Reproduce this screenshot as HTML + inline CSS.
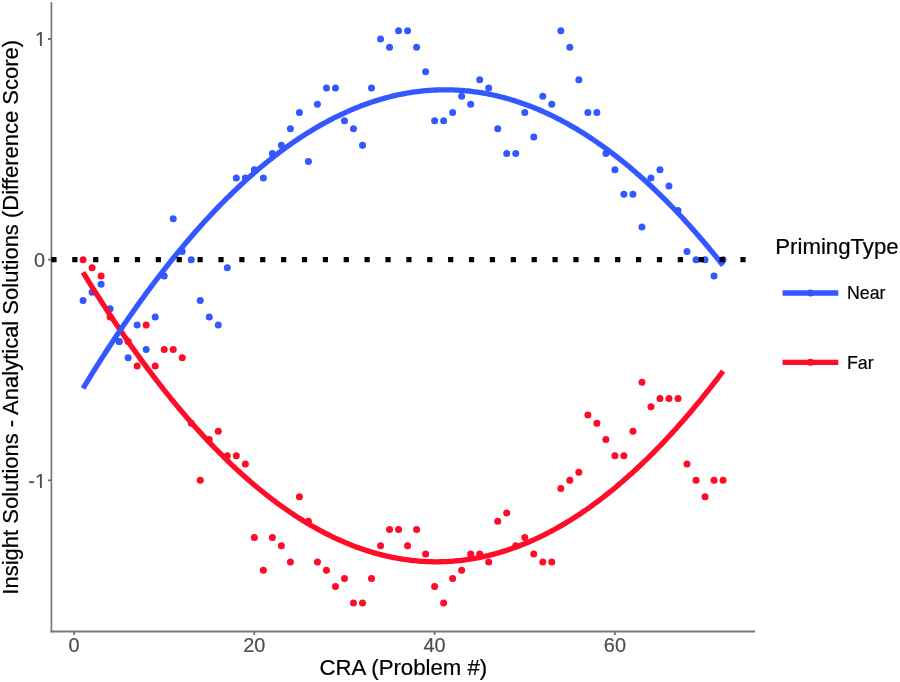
<!DOCTYPE html>
<html><head><meta charset="utf-8"><title>CRA plot</title><style>
html,body{margin:0;padding:0;background:#fff;}
svg{display:block;}
#wrap{width:900px;height:682px;}
text{font-family:"Liberation Sans",Arial,sans-serif;}
</style></head><body><div id="wrap">
<svg width="900" height="682" viewBox="0 0 900 682">
<rect width="900" height="682" fill="#fff"/>
<g>
<circle fill="#FE0C28" cx="83.07" cy="259.66" r="3.5"/>
<circle fill="#FE0C28" cx="92.09" cy="267.83" r="3.5"/>
<circle fill="#FE0C28" cx="101.10" cy="276.01" r="3.5"/>
<circle fill="#FE0C28" cx="110.12" cy="316.88" r="3.5"/>
<circle fill="#FE0C28" cx="119.13" cy="341.40" r="3.5"/>
<circle fill="#FE0C28" cx="128.14" cy="341.40" r="3.5"/>
<circle fill="#FE0C28" cx="137.16" cy="365.92" r="3.5"/>
<circle fill="#FE0C28" cx="146.17" cy="325.05" r="3.5"/>
<circle fill="#FE0C28" cx="155.19" cy="365.92" r="3.5"/>
<circle fill="#FE0C28" cx="164.20" cy="349.57" r="3.5"/>
<circle fill="#FE0C28" cx="173.21" cy="349.57" r="3.5"/>
<circle fill="#FE0C28" cx="182.23" cy="357.75" r="3.5"/>
<circle fill="#FE0C28" cx="191.24" cy="423.14" r="3.5"/>
<circle fill="#FE0C28" cx="200.26" cy="480.36" r="3.5"/>
<circle fill="#FE0C28" cx="209.27" cy="439.49" r="3.5"/>
<circle fill="#FE0C28" cx="218.28" cy="431.32" r="3.5"/>
<circle fill="#FE0C28" cx="227.30" cy="455.84" r="3.5"/>
<circle fill="#FE0C28" cx="236.31" cy="455.84" r="3.5"/>
<circle fill="#FE0C28" cx="245.33" cy="464.01" r="3.5"/>
<circle fill="#FE0C28" cx="254.34" cy="537.58" r="3.5"/>
<circle fill="#FE0C28" cx="263.35" cy="570.27" r="3.5"/>
<circle fill="#FE0C28" cx="272.37" cy="537.58" r="3.5"/>
<circle fill="#FE0C28" cx="281.38" cy="545.75" r="3.5"/>
<circle fill="#FE0C28" cx="290.40" cy="562.10" r="3.5"/>
<circle fill="#FE0C28" cx="299.41" cy="496.71" r="3.5"/>
<circle fill="#FE0C28" cx="308.42" cy="521.23" r="3.5"/>
<circle fill="#FE0C28" cx="317.44" cy="562.10" r="3.5"/>
<circle fill="#FE0C28" cx="326.45" cy="570.27" r="3.5"/>
<circle fill="#FE0C28" cx="335.47" cy="586.62" r="3.5"/>
<circle fill="#FE0C28" cx="344.48" cy="578.45" r="3.5"/>
<circle fill="#FE0C28" cx="353.49" cy="602.97" r="3.5"/>
<circle fill="#FE0C28" cx="362.51" cy="602.97" r="3.5"/>
<circle fill="#FE0C28" cx="371.52" cy="578.45" r="3.5"/>
<circle fill="#FE0C28" cx="380.54" cy="545.75" r="3.5"/>
<circle fill="#FE0C28" cx="389.55" cy="529.40" r="3.5"/>
<circle fill="#FE0C28" cx="398.56" cy="529.40" r="3.5"/>
<circle fill="#FE0C28" cx="407.58" cy="545.75" r="3.5"/>
<circle fill="#FE0C28" cx="416.59" cy="529.40" r="3.5"/>
<circle fill="#FE0C28" cx="425.61" cy="553.93" r="3.5"/>
<circle fill="#FE0C28" cx="434.62" cy="586.62" r="3.5"/>
<circle fill="#FE0C28" cx="443.63" cy="602.97" r="3.5"/>
<circle fill="#FE0C28" cx="452.65" cy="578.45" r="3.5"/>
<circle fill="#FE0C28" cx="461.66" cy="570.27" r="3.5"/>
<circle fill="#FE0C28" cx="470.68" cy="553.93" r="3.5"/>
<circle fill="#FE0C28" cx="479.69" cy="553.93" r="3.5"/>
<circle fill="#FE0C28" cx="488.70" cy="562.10" r="3.5"/>
<circle fill="#FE0C28" cx="497.72" cy="521.23" r="3.5"/>
<circle fill="#FE0C28" cx="506.73" cy="513.06" r="3.5"/>
<circle fill="#FE0C28" cx="515.75" cy="545.75" r="3.5"/>
<circle fill="#FE0C28" cx="524.76" cy="537.58" r="3.5"/>
<circle fill="#FE0C28" cx="533.77" cy="553.93" r="3.5"/>
<circle fill="#FE0C28" cx="542.79" cy="562.10" r="3.5"/>
<circle fill="#FE0C28" cx="551.80" cy="562.10" r="3.5"/>
<circle fill="#FE0C28" cx="560.82" cy="488.53" r="3.5"/>
<circle fill="#FE0C28" cx="569.83" cy="480.36" r="3.5"/>
<circle fill="#FE0C28" cx="578.84" cy="472.19" r="3.5"/>
<circle fill="#FE0C28" cx="587.86" cy="414.97" r="3.5"/>
<circle fill="#FE0C28" cx="596.87" cy="423.14" r="3.5"/>
<circle fill="#FE0C28" cx="605.89" cy="439.49" r="3.5"/>
<circle fill="#FE0C28" cx="614.90" cy="455.84" r="3.5"/>
<circle fill="#FE0C28" cx="623.91" cy="455.84" r="3.5"/>
<circle fill="#FE0C28" cx="632.93" cy="431.32" r="3.5"/>
<circle fill="#FE0C28" cx="641.94" cy="382.27" r="3.5"/>
<circle fill="#FE0C28" cx="650.96" cy="406.79" r="3.5"/>
<circle fill="#FE0C28" cx="659.97" cy="398.62" r="3.5"/>
<circle fill="#FE0C28" cx="668.98" cy="398.62" r="3.5"/>
<circle fill="#FE0C28" cx="678.00" cy="398.62" r="3.5"/>
<circle fill="#FE0C28" cx="687.01" cy="464.01" r="3.5"/>
<circle fill="#FE0C28" cx="696.03" cy="480.36" r="3.5"/>
<circle fill="#FE0C28" cx="705.04" cy="496.71" r="3.5"/>
<circle fill="#FE0C28" cx="714.05" cy="480.36" r="3.5"/>
<circle fill="#FE0C28" cx="723.07" cy="480.36" r="3.5"/>
<circle fill="#3458FF" cx="83.07" cy="300.53" r="3.5"/>
<circle fill="#3458FF" cx="92.09" cy="292.36" r="3.5"/>
<circle fill="#3458FF" cx="101.10" cy="284.18" r="3.5"/>
<circle fill="#3458FF" cx="110.12" cy="308.70" r="3.5"/>
<circle fill="#3458FF" cx="119.13" cy="341.40" r="3.5"/>
<circle fill="#3458FF" cx="128.14" cy="357.75" r="3.5"/>
<circle fill="#3458FF" cx="137.16" cy="325.05" r="3.5"/>
<circle fill="#3458FF" cx="146.17" cy="349.57" r="3.5"/>
<circle fill="#3458FF" cx="155.19" cy="316.88" r="3.5"/>
<circle fill="#3458FF" cx="164.20" cy="276.01" r="3.5"/>
<circle fill="#3458FF" cx="173.21" cy="218.79" r="3.5"/>
<circle fill="#3458FF" cx="182.23" cy="251.49" r="3.5"/>
<circle fill="#3458FF" cx="191.24" cy="259.66" r="3.5"/>
<circle fill="#3458FF" cx="200.26" cy="300.53" r="3.5"/>
<circle fill="#3458FF" cx="209.27" cy="316.88" r="3.5"/>
<circle fill="#3458FF" cx="218.28" cy="325.05" r="3.5"/>
<circle fill="#3458FF" cx="227.30" cy="267.83" r="3.5"/>
<circle fill="#3458FF" cx="236.31" cy="177.92" r="3.5"/>
<circle fill="#3458FF" cx="245.33" cy="177.92" r="3.5"/>
<circle fill="#3458FF" cx="254.34" cy="169.75" r="3.5"/>
<circle fill="#3458FF" cx="263.35" cy="177.92" r="3.5"/>
<circle fill="#3458FF" cx="272.37" cy="153.40" r="3.5"/>
<circle fill="#3458FF" cx="281.38" cy="145.22" r="3.5"/>
<circle fill="#3458FF" cx="290.40" cy="128.87" r="3.5"/>
<circle fill="#3458FF" cx="299.41" cy="112.53" r="3.5"/>
<circle fill="#3458FF" cx="308.42" cy="161.57" r="3.5"/>
<circle fill="#3458FF" cx="317.44" cy="104.35" r="3.5"/>
<circle fill="#3458FF" cx="326.45" cy="88.00" r="3.5"/>
<circle fill="#3458FF" cx="335.47" cy="88.00" r="3.5"/>
<circle fill="#3458FF" cx="344.48" cy="120.70" r="3.5"/>
<circle fill="#3458FF" cx="353.49" cy="128.87" r="3.5"/>
<circle fill="#3458FF" cx="362.51" cy="145.22" r="3.5"/>
<circle fill="#3458FF" cx="371.52" cy="88.00" r="3.5"/>
<circle fill="#3458FF" cx="380.54" cy="38.96" r="3.5"/>
<circle fill="#3458FF" cx="389.55" cy="47.13" r="3.5"/>
<circle fill="#3458FF" cx="398.56" cy="30.79" r="3.5"/>
<circle fill="#3458FF" cx="407.58" cy="30.79" r="3.5"/>
<circle fill="#3458FF" cx="416.59" cy="47.13" r="3.5"/>
<circle fill="#3458FF" cx="425.61" cy="71.66" r="3.5"/>
<circle fill="#3458FF" cx="434.62" cy="120.70" r="3.5"/>
<circle fill="#3458FF" cx="443.63" cy="120.70" r="3.5"/>
<circle fill="#3458FF" cx="452.65" cy="112.53" r="3.5"/>
<circle fill="#3458FF" cx="461.66" cy="96.18" r="3.5"/>
<circle fill="#3458FF" cx="470.68" cy="104.35" r="3.5"/>
<circle fill="#3458FF" cx="479.69" cy="79.83" r="3.5"/>
<circle fill="#3458FF" cx="488.70" cy="88.00" r="3.5"/>
<circle fill="#3458FF" cx="497.72" cy="128.87" r="3.5"/>
<circle fill="#3458FF" cx="506.73" cy="153.40" r="3.5"/>
<circle fill="#3458FF" cx="515.75" cy="153.40" r="3.5"/>
<circle fill="#3458FF" cx="524.76" cy="112.53" r="3.5"/>
<circle fill="#3458FF" cx="533.77" cy="137.05" r="3.5"/>
<circle fill="#3458FF" cx="542.79" cy="96.18" r="3.5"/>
<circle fill="#3458FF" cx="551.80" cy="104.35" r="3.5"/>
<circle fill="#3458FF" cx="560.82" cy="30.79" r="3.5"/>
<circle fill="#3458FF" cx="569.83" cy="47.13" r="3.5"/>
<circle fill="#3458FF" cx="578.84" cy="79.83" r="3.5"/>
<circle fill="#3458FF" cx="587.86" cy="112.53" r="3.5"/>
<circle fill="#3458FF" cx="596.87" cy="112.53" r="3.5"/>
<circle fill="#3458FF" cx="605.89" cy="153.40" r="3.5"/>
<circle fill="#3458FF" cx="614.90" cy="169.75" r="3.5"/>
<circle fill="#3458FF" cx="623.91" cy="194.27" r="3.5"/>
<circle fill="#3458FF" cx="632.93" cy="194.27" r="3.5"/>
<circle fill="#3458FF" cx="641.94" cy="226.96" r="3.5"/>
<circle fill="#3458FF" cx="650.96" cy="177.92" r="3.5"/>
<circle fill="#3458FF" cx="659.97" cy="169.75" r="3.5"/>
<circle fill="#3458FF" cx="668.98" cy="186.09" r="3.5"/>
<circle fill="#3458FF" cx="678.00" cy="210.62" r="3.5"/>
<circle fill="#3458FF" cx="687.01" cy="251.49" r="3.5"/>
<circle fill="#3458FF" cx="696.03" cy="259.66" r="3.5"/>
<circle fill="#3458FF" cx="705.04" cy="259.66" r="3.5"/>
<circle fill="#3458FF" cx="714.05" cy="276.01" r="3.5"/>
<circle fill="#3458FF" cx="723.07" cy="259.66" r="3.5"/>
</g>
<polyline points="83.07,272.43 85.21,275.92 87.35,279.40 89.50,282.85 91.64,286.28 93.78,289.69 95.92,293.08 98.06,296.45 100.20,299.80 102.34,303.13 104.48,306.43 106.62,309.71 108.76,312.98 110.90,316.22 113.04,319.44 115.18,322.64 117.32,325.81 119.46,328.97 121.60,332.10 123.74,335.22 125.88,338.31 128.02,341.38 130.16,344.43 132.30,347.46 134.44,350.47 136.59,353.45 138.73,356.42 140.87,359.36 143.01,362.28 145.15,365.18 147.29,368.06 149.43,370.92 151.57,373.76 153.71,376.58 155.85,379.37 157.99,382.14 160.13,384.90 162.27,387.63 164.41,390.34 166.55,393.03 168.69,395.69 170.83,398.34 172.97,400.96 175.11,403.57 177.25,406.15 179.39,408.71 181.53,411.25 183.68,413.77 185.82,416.27 187.96,418.74 190.10,421.20 192.24,423.63 194.38,426.04 196.52,428.44 198.66,430.81 200.80,433.15 202.94,435.48 205.08,437.79 207.22,440.07 209.36,442.34 211.50,444.58 213.64,446.80 215.78,449.00 217.92,451.18 220.06,453.34 222.20,455.47 224.34,457.59 226.48,459.68 228.62,461.75 230.76,463.80 232.91,465.83 235.05,467.84 237.19,469.83 239.33,471.80 241.47,473.74 243.61,475.67 245.75,477.57 247.89,479.45 250.03,481.31 252.17,483.15 254.31,484.97 256.45,486.76 258.59,488.54 260.73,490.29 262.87,492.02 265.01,493.74 267.15,495.43 269.29,497.09 271.43,498.74 273.57,500.37 275.71,501.97 277.85,503.56 280.00,505.12 282.14,506.66 284.28,508.18 286.42,509.68 288.56,511.16 290.70,512.61 292.84,514.05 294.98,515.46 297.12,516.85 299.26,518.23 301.40,519.58 303.54,520.91 305.68,522.21 307.82,523.50 309.96,524.76 312.10,526.01 314.24,527.23 316.38,528.43 318.52,529.61 320.66,530.77 322.80,531.91 324.94,533.03 327.09,534.12 329.23,535.19 331.37,536.25 333.51,537.28 335.65,538.29 337.79,539.28 339.93,540.25 342.07,541.19 344.21,542.12 346.35,543.02 348.49,543.90 350.63,544.77 352.77,545.61 354.91,546.42 357.05,547.22 359.19,548.00 361.33,548.75 363.47,549.49 365.61,550.20 367.75,550.89 369.89,551.56 372.03,552.21 374.17,552.84 376.32,553.45 378.46,554.03 380.60,554.59 382.74,555.14 384.88,555.66 387.02,556.16 389.16,556.64 391.30,557.10 393.44,557.53 395.58,557.95 397.72,558.34 399.86,558.71 402.00,559.07 404.14,559.40 406.28,559.71 408.42,559.99 410.56,560.26 412.70,560.51 414.84,560.73 416.98,560.93 419.12,561.11 421.26,561.27 423.41,561.41 425.55,561.53 427.69,561.63 429.83,561.70 431.97,561.76 434.11,561.79 436.25,561.80 438.39,561.79 440.53,561.76 442.67,561.71 444.81,561.64 446.95,561.54 449.09,561.43 451.23,561.29 453.37,561.13 455.51,560.95 457.65,560.75 459.79,560.53 461.93,560.28 464.07,560.02 466.21,559.73 468.35,559.43 470.50,559.10 472.64,558.75 474.78,558.38 476.92,557.99 479.06,557.57 481.20,557.14 483.34,556.68 485.48,556.20 487.62,555.71 489.76,555.19 491.90,554.65 494.04,554.08 496.18,553.50 498.32,552.90 500.46,552.27 502.60,551.62 504.74,550.96 506.88,550.27 509.02,549.56 511.16,548.82 513.30,548.07 515.44,547.30 517.58,546.50 519.73,545.68 521.87,544.84 524.01,543.98 526.15,543.10 528.29,542.20 530.43,541.28 532.57,540.33 534.71,539.37 536.85,538.38 538.99,537.37 541.13,536.34 543.27,535.29 545.41,534.22 547.55,533.13 549.69,532.01 551.83,530.88 553.97,529.72 556.11,528.54 558.25,527.34 560.39,526.12 562.53,524.88 564.67,523.62 566.82,522.33 568.96,521.03 571.10,519.70 573.24,518.35 575.38,516.98 577.52,515.59 579.66,514.18 581.80,512.75 583.94,511.29 586.08,509.82 588.22,508.32 590.36,506.80 592.50,505.26 594.64,503.70 596.78,502.12 598.92,500.52 601.06,498.89 603.20,497.25 605.34,495.58 607.48,493.89 609.62,492.18 611.76,490.45 613.91,488.70 616.05,486.93 618.19,485.13 620.33,483.32 622.47,481.48 624.61,479.62 626.75,477.74 628.89,475.84 631.03,473.92 633.17,471.98 635.31,470.02 637.45,468.03 639.59,466.02 641.73,463.99 643.87,461.95 646.01,459.88 648.15,457.78 650.29,455.67 652.43,453.54 654.57,451.38 656.71,449.20 658.85,447.01 661.00,444.79 663.14,442.55 665.28,440.28 667.42,438.00 669.56,435.70 671.70,433.37 673.84,431.03 675.98,428.66 678.12,426.27 680.26,423.86 682.40,421.43 684.54,418.97 686.68,416.50 688.82,414.00 690.96,411.49 693.10,408.95 695.24,406.39 697.38,403.81 699.52,401.21 701.66,398.58 703.80,395.94 705.94,393.28 708.08,390.59 710.23,387.88 712.37,385.15 714.51,382.40 716.65,379.63 718.79,376.84 720.93,374.02 723.07,371.19" fill="none" stroke="#FE0C28" stroke-width="5.3" stroke-linejoin="round"/>
<polyline points="83.07,388.33 85.21,384.81 87.35,381.32 89.50,377.84 91.64,374.38 93.78,370.95 95.92,367.53 98.06,364.14 100.20,360.77 102.34,357.42 104.48,354.09 106.62,350.78 108.76,347.49 110.90,344.22 113.04,340.97 115.18,337.75 117.32,334.54 119.46,331.36 121.60,328.19 123.74,325.05 125.88,321.93 128.02,318.83 130.16,315.75 132.30,312.69 134.44,309.65 136.59,306.63 138.73,303.63 140.87,300.66 143.01,297.70 145.15,294.77 147.29,291.85 149.43,288.96 151.57,286.09 153.71,283.24 155.85,280.41 157.99,277.60 160.13,274.81 162.27,272.04 164.41,269.30 166.55,266.57 168.69,263.87 170.83,261.18 172.97,258.52 175.11,255.88 177.25,253.26 179.39,250.66 181.53,248.08 183.68,245.52 185.82,242.98 187.96,240.46 190.10,237.96 192.24,235.49 194.38,233.03 196.52,230.60 198.66,228.19 200.80,225.80 202.94,223.42 205.08,221.07 207.22,218.74 209.36,216.44 211.50,214.15 213.64,211.88 215.78,209.64 217.92,207.41 220.06,205.21 222.20,203.02 224.34,200.86 226.48,198.72 228.62,196.60 230.76,194.50 232.91,192.42 235.05,190.36 237.19,188.32 239.33,186.30 241.47,184.31 243.61,182.33 245.75,180.38 247.89,178.45 250.03,176.53 252.17,174.64 254.31,172.77 256.45,170.92 258.59,169.09 260.73,167.28 262.87,165.50 265.01,163.73 267.15,161.98 269.29,160.26 271.43,158.56 273.57,156.87 275.71,155.21 277.85,153.57 280.00,151.95 282.14,150.35 284.28,148.77 286.42,147.21 288.56,145.68 290.70,144.16 292.84,142.66 294.98,141.19 297.12,139.74 299.26,138.30 301.40,136.89 303.54,135.50 305.68,134.13 307.82,132.78 309.96,131.45 312.10,130.14 314.24,128.86 316.38,127.59 318.52,126.35 320.66,125.12 322.80,123.92 324.94,122.74 327.09,121.57 329.23,120.43 331.37,119.31 333.51,118.21 335.65,117.14 337.79,116.08 339.93,115.04 342.07,114.03 344.21,113.03 346.35,112.06 348.49,111.10 350.63,110.17 352.77,109.26 354.91,108.37 357.05,107.50 359.19,106.65 361.33,105.82 363.47,105.02 365.61,104.23 367.75,103.46 369.89,102.72 372.03,102.00 374.17,101.29 376.32,100.61 378.46,99.95 380.60,99.31 382.74,98.69 384.88,98.09 387.02,97.51 389.16,96.96 391.30,96.42 393.44,95.91 395.58,95.41 397.72,94.94 399.86,94.49 402.00,94.05 404.14,93.64 406.28,93.25 408.42,92.88 410.56,92.54 412.70,92.21 414.84,91.90 416.98,91.62 419.12,91.35 421.26,91.11 423.41,90.88 425.55,90.68 427.69,90.50 429.83,90.34 431.97,90.20 434.11,90.08 436.25,89.98 438.39,89.90 440.53,89.85 442.67,89.81 444.81,89.80 446.95,89.80 449.09,89.83 451.23,89.88 453.37,89.95 455.51,90.04 457.65,90.15 459.79,90.28 461.93,90.43 464.07,90.60 466.21,90.80 468.35,91.01 470.50,91.25 472.64,91.51 474.78,91.78 476.92,92.08 479.06,92.40 481.20,92.74 483.34,93.10 485.48,93.48 487.62,93.88 489.76,94.31 491.90,94.75 494.04,95.22 496.18,95.70 498.32,96.21 500.46,96.74 502.60,97.29 504.74,97.85 506.88,98.44 509.02,99.06 511.16,99.69 513.30,100.34 515.44,101.01 517.58,101.71 519.73,102.42 521.87,103.16 524.01,103.92 526.15,104.69 528.29,105.49 530.43,106.31 532.57,107.15 534.71,108.01 536.85,108.90 538.99,109.80 541.13,110.72 543.27,111.67 545.41,112.63 547.55,113.62 549.69,114.63 551.83,115.65 553.97,116.70 556.11,117.77 558.25,118.86 560.39,119.97 562.53,121.11 564.67,122.26 566.82,123.43 568.96,124.63 571.10,125.85 573.24,127.08 575.38,128.34 577.52,129.62 579.66,130.92 581.80,132.24 583.94,133.58 586.08,134.94 588.22,136.32 590.36,137.73 592.50,139.15 594.64,140.59 596.78,142.06 598.92,143.55 601.06,145.06 603.20,146.58 605.34,148.13 607.48,149.70 609.62,151.29 611.76,152.91 613.91,154.54 616.05,156.19 618.19,157.87 620.33,159.56 622.47,161.28 624.61,163.02 626.75,164.77 628.89,166.55 631.03,168.35 633.17,170.17 635.31,172.01 637.45,173.88 639.59,175.76 641.73,177.66 643.87,179.59 646.01,181.53 648.15,183.50 650.29,185.49 652.43,187.50 654.57,189.53 656.71,191.58 658.85,193.65 661.00,195.74 663.14,197.85 665.28,199.98 667.42,202.14 669.56,204.31 671.70,206.51 673.84,208.73 675.98,210.96 678.12,213.22 680.26,215.50 682.40,217.80 684.54,220.12 686.68,222.46 688.82,224.83 690.96,227.21 693.10,229.62 695.24,232.04 697.38,234.49 699.52,236.95 701.66,239.44 703.80,241.95 705.94,244.48 708.08,247.03 710.23,249.60 712.37,252.19 714.51,254.81 716.65,257.44 718.79,260.10 720.93,262.77 723.07,265.47" fill="none" stroke="#3458FF" stroke-width="5.3" stroke-linejoin="round"/>
<g fill="none">
<path d="M51.4,2.1 V632.45" stroke="#787878" stroke-width="1.7"/>
<path d="M50.55,631.5 H755.1" stroke="#7a7a7a" stroke-width="1.9"/>
<path d="M48.0,38.96 H51.4 M48.0,259.66 H51.4 M48.0,480.36 H51.4 " stroke="#6e6e6e" stroke-width="1.9"/>
<path d="M74.06,631.5 V635 M254.34,631.5 V635 M434.62,631.5 V635 M614.90,631.5 V635 " stroke="#6e6e6e" stroke-width="1.7"/>
</g>
<line x1="51.35" y1="259.66" x2="755.1" y2="259.66" stroke="#000" stroke-width="5.2" stroke-dasharray="5.22 15.66"/>
<g fill="#4D4D4D" font-size="19.9" stroke="#4D4D4D" stroke-width="0.2">
<text x="46" y="46.26" text-anchor="end">1</text>
<text x="45" y="266.96" text-anchor="end">0</text>
<text x="46" y="487.66" text-anchor="end">-1</text>
<text x="74.06" y="651.8" text-anchor="middle">0</text>
<text x="254.34" y="651.8" text-anchor="middle">20</text>
<text x="434.62" y="651.8" text-anchor="middle">40</text>
<text x="614.90" y="651.8" text-anchor="middle">60</text>
</g>
<g fill="#fff"><rect x="35" y="43.81" width="5" height="2.8"/><rect x="41.85" y="43.81" width="4.6" height="2.8"/><rect x="35" y="485.21" width="5" height="2.8"/><rect x="41.85" y="485.21" width="4.6" height="2.8"/></g>
<text x="403.3" y="674.5" text-anchor="middle" font-size="22.2" fill="#000" stroke="#000" stroke-width="0.22">CRA (Problem #)</text>
<text transform="translate(17.6,317.3) rotate(-90)" text-anchor="middle" font-size="22" fill="#000" stroke="#000" stroke-width="0.22">Insight Solutions - Analytical Solutions (Difference Score)</text>
<text x="775.3" y="253.7" font-size="22.2" fill="#000" stroke="#000" stroke-width="0.22">PrimingType</text>
<line x1="782.6" y1="293.0" x2="838.3" y2="293.0" stroke="#3458FF" stroke-width="5.3"/>
<circle cx="810.45" cy="293.0" r="3.5" fill="#3458FF"/>
<line x1="782.6" y1="362.3" x2="838.3" y2="362.3" stroke="#FE0C28" stroke-width="5.3"/>
<circle cx="810.45" cy="362.3" r="3.5" fill="#FE0C28"/>
<text x="847.0" y="299.4" font-size="17.8" fill="#000" stroke="#000" stroke-width="0.18">Near</text>
<text x="847.0" y="368.9" font-size="17.8" fill="#000" stroke="#000" stroke-width="0.18">Far</text>
</svg></div>
</body></html>
